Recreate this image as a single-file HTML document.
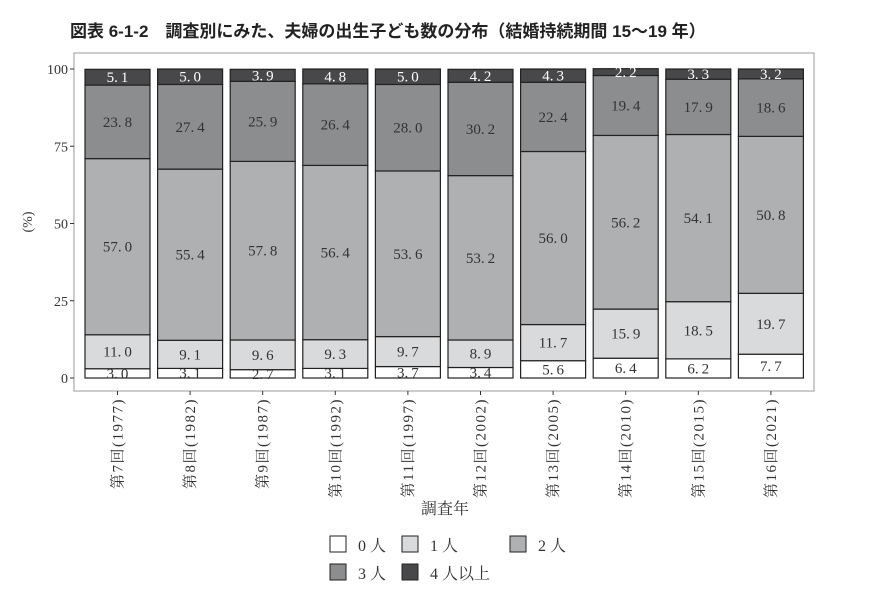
<!DOCTYPE html>
<html><head><meta charset="utf-8"><style>
body{margin:0;background:#fff;width:870px;height:584px;overflow:hidden;font-family:"Liberation Serif","Noto Serif CJK SC",serif}
svg text{font-family:"Liberation Serif","Noto Serif CJK SC",serif}
</style></head><body>
<svg id="c" width="870" height="584">
<text x="70" y="37" font-size="17" font-weight="bold" fill="#222" style="font-family:'Liberation Sans','Noto Sans CJK JP',sans-serif">図表 6-1-2　調査別にみた、夫婦の出生子ども数の分布（結婚持続期間 15〜19 年）</text>
<rect x="74" y="53" width="740" height="338" fill="#fff" stroke="#999" stroke-width="1"/>
<g id="g"></g>
</svg>
<script>
const categories=["第7回(1977)","第8回(1982)","第9回(1987)","第10回(1992)","第11回(1997)","第12回(2002)","第13回(2005)","第14回(2010)","第15回(2015)","第16回(2021)"];
const s0=[3.0,3.1,2.7,3.1,3.7,3.4,5.6,6.4,6.2,7.7];
const s1=[11.0,9.1,9.6,9.3,9.7,8.9,11.7,15.9,18.5,19.7];
const s2=[57.0,55.4,57.8,56.4,53.6,53.2,56.0,56.2,54.1,50.8];
const s3=[23.8,27.4,25.9,26.4,28.0,30.2,22.4,19.4,17.9,18.6];
const s4=[5.1,5.0,3.9,4.8,5.0,4.2,4.3,2.2,3.3,3.2];
const seriesNames=["0人","1人","2人","3人","4人以上"];
const yTicks=[0,25,50,75,100];
const series=[s0,s1,s2,s3,s4];
const fills=["#ffffff","#d9dadb","#aeb0b2","#8c8d8f","#48484a"];
const txt=["#333","#333","#333","#333","#fff"];
const NS="http://www.w3.org/2000/svg";
const g=document.getElementById('g');
const y=v=>378-v*3.09;
const x=i=>85+i*72.6;
const bw=65;
function mk(t,a,p){const e=document.createElementNS(NS,t);for(const k in a)e.setAttribute(k,a[k]);(p||g).appendChild(e);return e;}
yTicks.forEach(t=>{
 const l=mk('line',{x1:70,x2:74,y1:y(t),y2:y(t),stroke:'#333'});
 
 
 const tx=mk('text',{x:68,y:y(t)+5,'text-anchor':'end','font-size':14,fill:'#333'});tx.textContent=t;
 
 
});
const yt=mk('text',{x:32,y:222,'font-size':14,fill:'#333','text-anchor':'middle',transform:'rotate(-90 32 222)'});yt.textContent='(%)';


categories.forEach((c,i)=>{
 let cum=0;
 series.forEach((s,k)=>{
  const v=s[i];
  const r=mk('rect',{x:x(i),y:y(cum+v),width:bw,height:v*3.09,fill:fills[k],stroke:'#222','stroke-width':1.2});
  
  
  const t=mk('text',{x:x(i)+bw/2,y:y(cum+v/2)+5,'text-anchor':'middle','font-size':15,fill:txt[k]});
  t.textContent=v.toFixed(1).replace('.','.\u2009');
  
  
  cum+=v;
 });
 const cx=x(i)+bw/2;
 const tl=mk('line',{x1:cx,x2:cx,y1:391,y2:395,stroke:'#333'});
 
 
 const lb=mk('text',{x:cx+5,y:398,'text-anchor':'end','font-size':15,'letter-spacing':1.5,fill:'#333',transform:`rotate(-90 ${cx+5} 398)`});
 lb.textContent=c;
 
 
});
const xt=mk('text',{x:445,y:514,'text-anchor':'middle','font-size':16,fill:'#333'});xt.textContent='調査年';


const lpos=[[330,545],[402,545],[510,545],[330,573],[402,573]];
seriesNames.forEach((n,k)=>{
 const [lx,ly]=lpos[k];
 const r=mk('rect',{x:lx,y:ly-9,width:16,height:16,fill:fills[k],stroke:'#222','stroke-width':1});
 
 
 const t=mk('text',{x:lx+28,y:ly+6,'font-size':16,fill:'#333'});
 t.textContent=n.replace(/(\d)/,'$1 ');
 
 
});
</script>
</body></html>
